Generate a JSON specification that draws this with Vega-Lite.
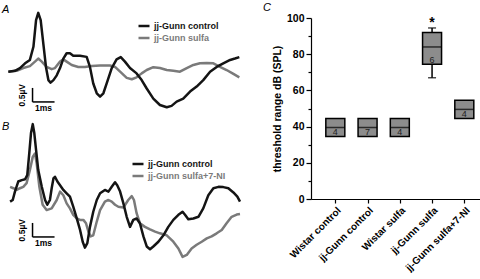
{
  "$schema": "https://vega.github.io/schema/vega-lite/v6.json",
  "padding": {"left": 0, "top": 2, "right": 0, "bottom": 0},
  "background": "white",
  "datasets": {
    "a": [
      {"s":"jj-Gunn sulfa","t":0,"v":0},{"s":"jj-Gunn sulfa","t":0.38,"v":0.03},{"s":"jj-Gunn sulfa","t":0.68,"v":0.13},{"s":"jj-Gunn sulfa","t":0.98,"v":0.2},{"s":"jj-Gunn sulfa","t":1.21,"v":0.36},
      {"s":"jj-Gunn sulfa","t":1.36,"v":0.47},{"s":"jj-Gunn sulfa","t":1.52,"v":0.36},{"s":"jj-Gunn sulfa","t":1.74,"v":0.17},{"s":"jj-Gunn sulfa","t":1.97,"v":0.09},{"s":"jj-Gunn sulfa","t":2.12,"v":0.13},
      {"s":"jj-Gunn sulfa","t":2.35,"v":0.36},{"s":"jj-Gunn sulfa","t":2.5,"v":0.44},{"s":"jj-Gunn sulfa","t":2.65,"v":0.36},{"s":"jj-Gunn sulfa","t":2.88,"v":0.24},{"s":"jj-Gunn sulfa","t":3.18,"v":0.17},
      {"s":"jj-Gunn sulfa","t":3.48,"v":0.17},{"s":"jj-Gunn sulfa","t":3.79,"v":0.2},{"s":"jj-Gunn sulfa","t":4.17,"v":0.22},{"s":"jj-Gunn sulfa","t":4.62,"v":0.22},{"s":"jj-Gunn sulfa","t":4.85,"v":0.17},
      {"s":"jj-Gunn sulfa","t":5.08,"v":0},{"s":"jj-Gunn sulfa","t":5.38,"v":-0.22},{"s":"jj-Gunn sulfa","t":5.61,"v":-0.27},{"s":"jj-Gunn sulfa","t":5.83,"v":-0.2},{"s":"jj-Gunn sulfa","t":6.06,"v":-0.06},
      {"s":"jj-Gunn sulfa","t":6.29,"v":0.06},{"s":"jj-Gunn sulfa","t":6.59,"v":0.16},{"s":"jj-Gunn sulfa","t":6.89,"v":0.13},{"s":"jj-Gunn sulfa","t":7.2,"v":0.06},{"s":"jj-Gunn sulfa","t":7.5,"v":0.03},
      {"s":"jj-Gunn sulfa","t":7.8,"v":0},{"s":"jj-Gunn sulfa","t":8.11,"v":0.13},{"s":"jj-Gunn sulfa","t":8.41,"v":0.24},{"s":"jj-Gunn sulfa","t":8.71,"v":0.3},{"s":"jj-Gunn sulfa","t":9.02,"v":0.31},
      {"s":"jj-Gunn sulfa","t":9.32,"v":0.3},{"s":"jj-Gunn sulfa","t":9.62,"v":0.17},{"s":"jj-Gunn sulfa","t":9.92,"v":0.06},{"s":"jj-Gunn sulfa","t":10.23,"v":-0.08},{"s":"jj-Gunn sulfa","t":10.5,"v":-0.2},
      {"s":"jj-Gunn control","t":0,"v":0},{"s":"jj-Gunn control","t":0.3,"v":0.03},{"s":"jj-Gunn control","t":0.53,"v":0.13},{"s":"jj-Gunn control","t":0.76,"v":0.3},{"s":"jj-Gunn control","t":0.98,"v":0.42},
      {"s":"jj-Gunn control","t":1.14,"v":0.89},{"s":"jj-Gunn control","t":1.26,"v":1.84},{"s":"jj-Gunn control","t":1.36,"v":2.1},{"s":"jj-Gunn control","t":1.47,"v":1.84},{"s":"jj-Gunn control","t":1.59,"v":1.0},
      {"s":"jj-Gunn control","t":1.71,"v":0.17},{"s":"jj-Gunn control","t":1.82,"v":-0.3},{"s":"jj-Gunn control","t":1.92,"v":-0.39},{"s":"jj-Gunn control","t":2.05,"v":-0.3},{"s":"jj-Gunn control","t":2.2,"v":-0.13},
      {"s":"jj-Gunn control","t":2.35,"v":0.13},{"s":"jj-Gunn control","t":2.5,"v":0.47},{"s":"jj-Gunn control","t":2.65,"v":0.66},{"s":"jj-Gunn control","t":2.8,"v":0.66},{"s":"jj-Gunn control","t":2.95,"v":0.57},
      {"s":"jj-Gunn control","t":3.26,"v":0.57},{"s":"jj-Gunn control","t":3.56,"v":0.53},{"s":"jj-Gunn control","t":3.71,"v":0.17},{"s":"jj-Gunn control","t":3.86,"v":-0.42},{"s":"jj-Gunn control","t":4.02,"v":-0.77},
      {"s":"jj-Gunn control","t":4.17,"v":-0.89},{"s":"jj-Gunn control","t":4.32,"v":-0.77},{"s":"jj-Gunn control","t":4.47,"v":-0.42},{"s":"jj-Gunn control","t":4.7,"v":0.13},{"s":"jj-Gunn control","t":4.92,"v":0.44},
      {"s":"jj-Gunn control","t":5.11,"v":0.52},{"s":"jj-Gunn control","t":5.3,"v":0.36},{"s":"jj-Gunn control","t":5.53,"v":0.13},{"s":"jj-Gunn control","t":5.83,"v":-0.06},{"s":"jj-Gunn control","t":6.06,"v":-0.3},
      {"s":"jj-Gunn control","t":6.29,"v":-0.6},{"s":"jj-Gunn control","t":6.59,"v":-0.96},{"s":"jj-Gunn control","t":6.89,"v":-1.19},{"s":"jj-Gunn control","t":7.2,"v":-1.27},{"s":"jj-Gunn control","t":7.42,"v":-1.22},
      {"s":"jj-Gunn control","t":7.65,"v":-1.07},{"s":"jj-Gunn control","t":7.95,"v":-0.96},{"s":"jj-Gunn control","t":8.26,"v":-0.71},{"s":"jj-Gunn control","t":8.56,"v":-0.53},{"s":"jj-Gunn control","t":8.86,"v":-0.3},
      {"s":"jj-Gunn control","t":9.17,"v":0},{"s":"jj-Gunn control","t":9.47,"v":0.17},{"s":"jj-Gunn control","t":9.77,"v":0.3},{"s":"jj-Gunn control","t":10.08,"v":0.42},{"s":"jj-Gunn control","t":10.3,"v":0.47},
      {"s":"jj-Gunn control","t":10.5,"v":0.52}
    ],
    "b": [
      {"s":"jj-Gunn sulfa+7-NI","t":0.08,"v":0.47},{"s":"jj-Gunn sulfa+7-NI","t":0.23,"v":0.42},{"s":"jj-Gunn sulfa+7-NI","t":0.38,"v":0.36},{"s":"jj-Gunn sulfa+7-NI","t":0.53,"v":0.42},{"s":"jj-Gunn sulfa+7-NI","t":0.68,"v":0.47},
      {"s":"jj-Gunn sulfa+7-NI","t":0.83,"v":0.6},{"s":"jj-Gunn sulfa+7-NI","t":0.98,"v":1.07},{"s":"jj-Gunn sulfa+7-NI","t":1.11,"v":1.54},{"s":"jj-Gunn sulfa+7-NI","t":1.21,"v":1.66},{"s":"jj-Gunn sulfa+7-NI","t":1.29,"v":1.3},
      {"s":"jj-Gunn sulfa+7-NI","t":1.41,"v":0.47},{"s":"jj-Gunn sulfa+7-NI","t":1.56,"v":-0.17},{"s":"jj-Gunn sulfa+7-NI","t":1.74,"v":-0.36},{"s":"jj-Gunn sulfa+7-NI","t":1.97,"v":-0.3},{"s":"jj-Gunn sulfa+7-NI","t":2.2,"v":0},
      {"s":"jj-Gunn sulfa+7-NI","t":2.35,"v":0.3},{"s":"jj-Gunn sulfa+7-NI","t":2.5,"v":0.17},{"s":"jj-Gunn sulfa+7-NI","t":2.65,"v":-0.12},{"s":"jj-Gunn sulfa+7-NI","t":2.8,"v":-0.3},{"s":"jj-Gunn sulfa+7-NI","t":2.95,"v":-0.53},
      {"s":"jj-Gunn sulfa+7-NI","t":3.11,"v":-0.66},{"s":"jj-Gunn sulfa+7-NI","t":3.26,"v":-0.71},{"s":"jj-Gunn sulfa+7-NI","t":3.41,"v":-0.71},{"s":"jj-Gunn sulfa+7-NI","t":3.53,"v":-0.83},{"s":"jj-Gunn sulfa+7-NI","t":3.64,"v":-1.13},
      {"s":"jj-Gunn sulfa+7-NI","t":3.74,"v":-1.3},{"s":"jj-Gunn sulfa+7-NI","t":3.86,"v":-1.26},{"s":"jj-Gunn sulfa+7-NI","t":4.02,"v":-0.77},{"s":"jj-Gunn sulfa+7-NI","t":4.17,"v":-0.36},{"s":"jj-Gunn sulfa+7-NI","t":4.39,"v":-0.06},
      {"s":"jj-Gunn sulfa+7-NI","t":4.55,"v":0},{"s":"jj-Gunn sulfa+7-NI","t":4.7,"v":-0.06},{"s":"jj-Gunn sulfa+7-NI","t":4.85,"v":-0.17},{"s":"jj-Gunn sulfa+7-NI","t":5.0,"v":-0.24},{"s":"jj-Gunn sulfa+7-NI","t":5.23,"v":-0.27},
      {"s":"jj-Gunn sulfa+7-NI","t":5.45,"v":0},{"s":"jj-Gunn sulfa+7-NI","t":5.61,"v":0.14},{"s":"jj-Gunn sulfa+7-NI","t":5.71,"v":0},{"s":"jj-Gunn sulfa+7-NI","t":5.83,"v":-0.47},{"s":"jj-Gunn sulfa+7-NI","t":5.98,"v":-0.83},
      {"s":"jj-Gunn sulfa+7-NI","t":6.21,"v":-0.96},{"s":"jj-Gunn sulfa+7-NI","t":6.44,"v":-1.05},{"s":"jj-Gunn sulfa+7-NI","t":6.67,"v":-1.13},{"s":"jj-Gunn sulfa+7-NI","t":6.89,"v":-1.19},{"s":"jj-Gunn sulfa+7-NI","t":7.2,"v":-1.26},
      {"s":"jj-Gunn sulfa+7-NI","t":7.5,"v":-1.49},{"s":"jj-Gunn sulfa+7-NI","t":7.73,"v":-1.73},{"s":"jj-Gunn sulfa+7-NI","t":7.92,"v":-2.03},{"s":"jj-Gunn sulfa+7-NI","t":8.11,"v":-1.96},{"s":"jj-Gunn sulfa+7-NI","t":8.33,"v":-1.73},
      {"s":"jj-Gunn sulfa+7-NI","t":8.56,"v":-1.6},{"s":"jj-Gunn sulfa+7-NI","t":8.79,"v":-1.49},{"s":"jj-Gunn sulfa+7-NI","t":9.02,"v":-1.37},{"s":"jj-Gunn sulfa+7-NI","t":9.24,"v":-1.3},{"s":"jj-Gunn sulfa+7-NI","t":9.47,"v":-1.19},
      {"s":"jj-Gunn sulfa+7-NI","t":9.7,"v":-1.07},{"s":"jj-Gunn sulfa+7-NI","t":9.92,"v":-0.83},{"s":"jj-Gunn sulfa+7-NI","t":10.15,"v":-0.6},{"s":"jj-Gunn sulfa+7-NI","t":10.38,"v":-0.52},{"s":"jj-Gunn sulfa+7-NI","t":10.53,"v":-0.5},
      {"s":"jj-Gunn control","t":0.08,"v":-0.06},{"s":"jj-Gunn control","t":0.2,"v":0},{"s":"jj-Gunn control","t":0.3,"v":0.3},{"s":"jj-Gunn control","t":0.45,"v":0.66},{"s":"jj-Gunn control","t":0.61,"v":0.71},
      {"s":"jj-Gunn control","t":0.76,"v":0.74},{"s":"jj-Gunn control","t":0.86,"v":0.89},{"s":"jj-Gunn control","t":0.95,"v":1.66},{"s":"jj-Gunn control","t":1.03,"v":2.39},{"s":"jj-Gunn control","t":1.11,"v":2.71},
      {"s":"jj-Gunn control","t":1.18,"v":2.39},{"s":"jj-Gunn control","t":1.26,"v":1.79},{"s":"jj-Gunn control","t":1.36,"v":1.07},{"s":"jj-Gunn control","t":1.52,"v":0.47},{"s":"jj-Gunn control","t":1.67,"v":0},
      {"s":"jj-Gunn control","t":1.77,"v":-0.17},{"s":"jj-Gunn control","t":1.89,"v":0},{"s":"jj-Gunn control","t":1.97,"v":0.42},{"s":"jj-Gunn control","t":2.05,"v":0.77},{"s":"jj-Gunn control","t":2.12,"v":0.83},
      {"s":"jj-Gunn control","t":2.23,"v":0.66},{"s":"jj-Gunn control","t":2.35,"v":0.53},{"s":"jj-Gunn control","t":2.5,"v":0.36},{"s":"jj-Gunn control","t":2.65,"v":0.24},{"s":"jj-Gunn control","t":2.8,"v":0.12},
      {"s":"jj-Gunn control","t":2.95,"v":-0.24},{"s":"jj-Gunn control","t":3.11,"v":-0.66},{"s":"jj-Gunn control","t":3.26,"v":-1.07},{"s":"jj-Gunn control","t":3.38,"v":-1.49},{"s":"jj-Gunn control","t":3.48,"v":-1.7},
      {"s":"jj-Gunn control","t":3.59,"v":-1.54},{"s":"jj-Gunn control","t":3.71,"v":-0.96},{"s":"jj-Gunn control","t":3.86,"v":-0.42},{"s":"jj-Gunn control","t":4.02,"v":0},{"s":"jj-Gunn control","t":4.17,"v":0.24},
      {"s":"jj-Gunn control","t":4.39,"v":0.36},{"s":"jj-Gunn control","t":4.55,"v":0.3},{"s":"jj-Gunn control","t":4.7,"v":0.47},{"s":"jj-Gunn control","t":4.85,"v":0.63},{"s":"jj-Gunn control","t":4.95,"v":0.53},
      {"s":"jj-Gunn control","t":5.08,"v":0.3},{"s":"jj-Gunn control","t":5.23,"v":-0.12},{"s":"jj-Gunn control","t":5.38,"v":-0.6},{"s":"jj-Gunn control","t":5.53,"v":-0.96},{"s":"jj-Gunn control","t":5.68,"v":-0.71},
      {"s":"jj-Gunn control","t":5.83,"v":-0.66},{"s":"jj-Gunn control","t":5.98,"v":-0.83},{"s":"jj-Gunn control","t":6.14,"v":-1.3},{"s":"jj-Gunn control","t":6.29,"v":-1.66},{"s":"jj-Gunn control","t":6.44,"v":-1.76},
      {"s":"jj-Gunn control","t":6.59,"v":-1.66},{"s":"jj-Gunn control","t":6.82,"v":-1.49},{"s":"jj-Gunn control","t":7.05,"v":-1.26},{"s":"jj-Gunn control","t":7.27,"v":-0.96},{"s":"jj-Gunn control","t":7.5,"v":-0.71},
      {"s":"jj-Gunn control","t":7.73,"v":-0.53},{"s":"jj-Gunn control","t":7.92,"v":-0.42},{"s":"jj-Gunn control","t":8.03,"v":-0.53},{"s":"jj-Gunn control","t":8.18,"v":-0.69},{"s":"jj-Gunn control","t":8.41,"v":-0.66},
      {"s":"jj-Gunn control","t":8.64,"v":-0.6},{"s":"jj-Gunn control","t":8.86,"v":-0.3},{"s":"jj-Gunn control","t":9.09,"v":0.17},{"s":"jj-Gunn control","t":9.32,"v":0.42},{"s":"jj-Gunn control","t":9.55,"v":0.47},
      {"s":"jj-Gunn control","t":9.77,"v":0.46},{"s":"jj-Gunn control","t":10.0,"v":0.42},{"s":"jj-Gunn control","t":10.23,"v":0.27},{"s":"jj-Gunn control","t":10.41,"v":0.12},{"s":"jj-Gunn control","t":10.53,"v":-0.06}
    ],
    "scaleA": [
      {"t":1.1,"v":-0.58,"t2":1.1,"v2":-1.08},
      {"t":1.1,"v":-1.08,"t2":2.1,"v2":-1.08}
    ],
    "scaleB": [
      {"t":1.1,"v":-0.82,"t2":1.1,"v2":-1.32},
      {"t":1.1,"v":-1.32,"t2":2.1,"v2":-1.32}
    ],
    "c": [
      {"group":"Wistar control","lo":34.5,"q1":34.5,"med":39.5,"q3":44.5,"hi":44.5,"n":"4"},
      {"group":"jj-Gunn control","lo":34.5,"q1":34.5,"med":39.5,"q3":44.5,"hi":44.5,"n":"7"},
      {"group":"Wistar sulfa","lo":34.5,"q1":34.5,"med":39.5,"q3":44.5,"hi":44.5,"n":"4"},
      {"group":"jj-Gunn sulfa","lo":67,"q1":74.5,"med":84,"q3":92,"hi":94.5,"n":"6"},
      {"group":"jj-Gunn sulfa+7-NI","lo":44.5,"q1":44.5,"med":49.5,"q3":54.5,"hi":54.5,"n":"4"}
    ]
  },
  "spacing": 21,
  "bounds": "full",
  "hconcat": [
    {
      "spacing": 10,
      "bounds": "flush",
      "resolve": {"scale": {"color": "independent"}, "legend": {"color": "independent"}},
      "vconcat": [
        {
          "width": 240,
          "height": 92,
          "title": {"text": "A", "anchor": "start", "frame": "group", "offset": -3, "dx": 2, "fontStyle": "italic", "fontWeight": "normal", "fontSize": 11, "color": "#000"},
          "layer": [
            {
              "data": {"name": "a"},
              "mark": {"type": "line", "strokeWidth": 2.5, "strokeJoin": "round"},
              "encoding": {
                "x": {"field": "t", "type": "quantitative", "scale": {"domain": [-0.379, 10.53], "nice": false, "zero": false}, "axis": null},
                "y": {"field": "v", "type": "quantitative", "scale": {"domain": [-1.368, 1.918], "nice": false, "zero": false}, "axis": null},
                "color": {
                  "field": "s", "type": "nominal",
                  "scale": {"domain": ["jj-Gunn sulfa", "jj-Gunn control"], "range": ["#7a7a7a", "#141414"]},
                  "legend": {
                    "orient": "none", "legendX": 137, "legendY": 1, "title": null,
                    "values": ["jj-Gunn control", "jj-Gunn sulfa"],
                    "symbolType": "stroke", "symbolSize": 121, "symbolStrokeWidth": 2.5,
                    "labelFontSize": 9, "labelFontWeight": "bold", "labelOffset": 3, "rowPadding": -1, "padding": 0,
                    "encode": {"labels": {"update": {"fill": {"signal": "datum.label === 'jj-Gunn control' ? '#141414' : '#7a7a7a'"}}}}
                  }
                }
              }
            },
            {
              "data": {"name": "scaleA"},
              "mark": {"type": "rule", "strokeWidth": 1.5, "color": "#000"},
              "encoding": {
                "x": {"field": "t", "type": "quantitative"},
                "y": {"field": "v", "type": "quantitative"},
                "x2": {"field": "t2"},
                "y2": {"field": "v2"}
              }
            },
            {
              "data": {"values": [{"label": "0.5µV"}]},
              "mark": {"type": "text", "angle": 270, "fontSize": 8.5, "fontWeight": "bold", "align": "center", "baseline": "middle", "color": "#000"},
              "encoding": {"x": {"datum": 0.6, "type": "quantitative"}, "y": {"datum": -0.84, "type": "quantitative"}, "text": {"field": "label"}}
            },
            {
              "data": {"values": [{"label": "1ms"}]},
              "mark": {"type": "text", "fontSize": 8.5, "fontWeight": "bold", "align": "center", "baseline": "top", "color": "#000"},
              "encoding": {"x": {"datum": 1.6, "type": "quantitative"}, "y": {"datum": -1.16, "type": "quantitative"}, "text": {"field": "label"}}
            }
          ]
        },
        {
          "width": 240,
          "height": 140,
          "title": {"text": "B", "anchor": "start", "frame": "group", "offset": 0, "dx": 2, "dy": 12, "fontStyle": "italic", "fontWeight": "normal", "fontSize": 11, "color": "#000"},
          "layer": [
            {
              "data": {"name": "b"},
              "mark": {"type": "line", "strokeWidth": 2.5, "strokeJoin": "round"},
              "encoding": {
                "x": {"field": "t", "type": "quantitative", "scale": {"domain": [-0.379, 10.53], "nice": false, "zero": false}, "axis": null},
                "y": {"field": "v", "type": "quantitative", "scale": {"domain": [-2.143, 2.857], "nice": false, "zero": false}, "axis": null},
                "color": {
                  "field": "s", "type": "nominal",
                  "scale": {"domain": ["jj-Gunn sulfa+7-NI", "jj-Gunn control"], "range": ["#7a7a7a", "#141414"]},
                  "legend": {
                    "orient": "none", "legendX": 131, "legendY": 37, "title": null,
                    "values": ["jj-Gunn control", "jj-Gunn sulfa+7-NI"],
                    "symbolType": "stroke", "symbolSize": 121, "symbolStrokeWidth": 2.5,
                    "labelFontSize": 9, "labelFontWeight": "bold", "labelOffset": 3, "rowPadding": -1, "padding": 0,
                    "encode": {"labels": {"update": {"fill": {"signal": "datum.label === 'jj-Gunn control' ? '#141414' : '#7a7a7a'"}}}}
                  }
                }
              }
            },
            {
              "data": {"name": "scaleB"},
              "mark": {"type": "rule", "strokeWidth": 1.5, "color": "#000"},
              "encoding": {
                "x": {"field": "t", "type": "quantitative"},
                "y": {"field": "v", "type": "quantitative"},
                "x2": {"field": "t2"},
                "y2": {"field": "v2"}
              }
            },
            {
              "data": {"values": [{"label": "0.5µV"}]},
              "mark": {"type": "text", "angle": 270, "fontSize": 8.5, "fontWeight": "bold", "align": "center", "baseline": "middle", "color": "#000"},
              "encoding": {"x": {"datum": 0.6, "type": "quantitative"}, "y": {"datum": -1.08, "type": "quantitative"}, "text": {"field": "label"}}
            },
            {
              "data": {"values": [{"label": "1ms"}]},
              "mark": {"type": "text", "fontSize": 8.5, "fontWeight": "bold", "align": "center", "baseline": "top", "color": "#000"},
              "encoding": {"x": {"datum": 1.6, "type": "quantitative"}, "y": {"datum": -1.4, "type": "quantitative"}, "text": {"field": "label"}}
            }
          ]
        }
      ]
    },
    {
      "width": 170,
      "height": 181,
      "title": {"text": "C", "anchor": "start", "frame": "group", "offset": 0, "dx": -48, "fontStyle": "italic", "fontWeight": "normal", "fontSize": 11, "color": "#000"},
      "data": {"name": "c"},
      "resolve": {"axis": {"y": "independent"}},
      "encoding": {
        "x": {
          "field": "group", "type": "nominal",
          "scale": {"type": "point", "domain": ["Wistar control", "jj-Gunn control", "Wistar sulfa", "jj-Gunn sulfa", "jj-Gunn sulfa+7-NI"], "padding": 0.636, "align": 0.593},
          "axis": {"title": null, "labelAngle": -45, "labelFontSize": 10, "labelFontWeight": "bold", "labelColor": "#000", "tickSize": 4, "labelPadding": 2, "domainColor": "#000", "tickColor": "#000", "domainWidth": 1.2, "tickWidth": 1.2}
        }
      },
      "layer": [
        {
          "mark": {"type": "bar", "size": 19, "fill": "#8c8c8c", "stroke": "#000", "strokeWidth": 1.5},
          "encoding": {
            "y": {
              "field": "q1", "type": "quantitative", "scale": {"domain": [0, 100], "nice": false},
              "axis": {
                "orient": "left",
                "title": "threshold range dB (SPL)",
                "values": [0, 20, 40, 60, 80, 100],
                "labelOverlap": false,
                "tickSize": 5, "labelFontSize": 10.5, "labelFontWeight": "bold", "labelColor": "#000",
                "titleFontSize": 10.5, "titleFontWeight": "bold", "titleColor": "#000", "titlePadding": 4, "labelPadding": 2,
                "domainColor": "#000", "tickColor": "#000", "domainWidth": 1.2, "tickWidth": 1.2, "grid": false
              }
            },
            "y2": {"field": "q3"}
          }
        },
        {
          "transform": [{"filter": "datum.lo < datum.q1"}],
          "mark": {"type": "rule", "color": "#000", "strokeWidth": 1.5},
          "encoding": {
            "y": {
              "field": "lo", "type": "quantitative",
              "axis": {"orient": "left", "values": [10, 30, 50, 70, 90], "labels": false, "domain": false, "title": null, "tickSize": 3, "tickColor": "#000", "tickWidth": 1.2, "grid": false}
            },
            "y2": {"field": "q1"}
          }
        },
        {
          "transform": [{"filter": "datum.lo < datum.q1"}],
          "mark": {"type": "rule", "color": "#000", "strokeWidth": 1.5},
          "encoding": {
            "y": {"field": "q3", "type": "quantitative", "axis": null},
            "y2": {"field": "hi"}
          }
        },
        {
          "mark": {"type": "tick", "size": 19, "thickness": 1.5, "color": "#000"},
          "encoding": {"y": {"field": "med", "type": "quantitative", "axis": null}}
        },
        {
          "transform": [{"filter": "datum.lo < datum.q1"}],
          "mark": {"type": "tick", "size": 8, "thickness": 1.5, "color": "#000"},
          "encoding": {"y": {"field": "lo", "type": "quantitative", "axis": null}}
        },
        {
          "transform": [{"filter": "datum.lo < datum.q1"}],
          "mark": {"type": "tick", "size": 8, "thickness": 1.5, "color": "#000"},
          "encoding": {"y": {"field": "hi", "type": "quantitative", "axis": null}}
        },
        {
          "mark": {"type": "text", "fontSize": 9, "color": "#222", "baseline": "alphabetic", "dy": -1.5},
          "encoding": {"y": {"field": "q1", "type": "quantitative", "axis": null}, "text": {"field": "n"}}
        },
        {
          "data": {"values": [{"group": "jj-Gunn sulfa", "label": "*"}]},
          "mark": {"type": "text", "fontSize": 14, "fontWeight": "bold", "baseline": "middle", "color": "#000"},
          "encoding": {"y": {"datum": 97, "type": "quantitative", "axis": null}, "text": {"field": "label"}}
        }
      ]
    }
  ],
  "config": {
    "view": {"stroke": null},
    "font": "Liberation Sans",
    "axis": {"grid": false, "labelOverlap": false},
    "title": {"font": "Liberation Sans"}
  }
}
